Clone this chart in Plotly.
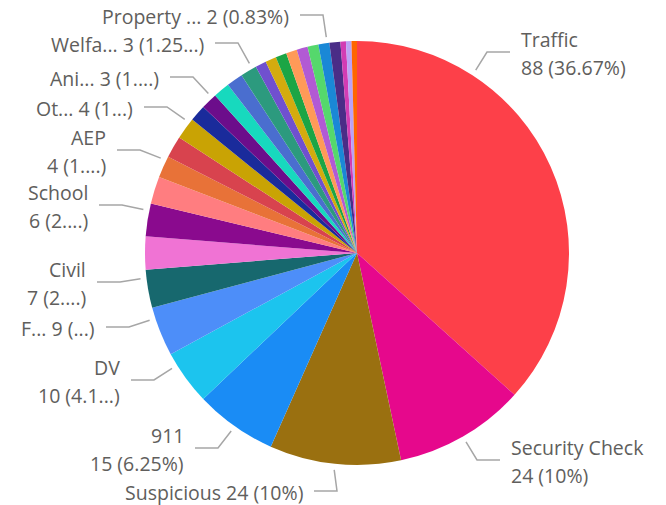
import math
import plotly.graph_objects as go

# slices, in the order they go round the pie (clockwise from 12 o'clock)
categories = ["Traffic", "Security Check", "Suspicious", "911", "DV", "F...", "Civil",
              "Type 8", "School", "Type 10", "AEP", "Type 12", "Ot...", "Type 14",
              "Ani...", "Type 16", "Type 17", "Welfa...", "Type 19", "Type 20",
              "Type 21", "Type 22", "Type 23", "Type 24", "Property ...", "Type 26",
              "Type 27", "Type 28", "Type 29"]
counts = [88, 24, 24, 15, 10, 9, 7,
          6, 6, 5, 4, 4, 4, 3,
          3, 3, 3, 3, 2, 2,
          2, 2, 2, 2, 2, 2,
          1, 1, 1]
colors = ["#FD4049", "#E6088C", "#9A7010", "#1A8CF5", "#1CC4EE", "#4D8EF9", "#17686E",
          "#F073D4", "#8A0A8E", "#FF7D80", "#E87238", "#D8434E", "#C9A304", "#1A2B9B",
          "#6C0D8B", "#17D9BE", "#4A6ECF", "#2C9A7E", "#7050CF", "#D4AB0E",
          "#1BA545", "#FF9A58", "#B25AD4", "#55D86C", "#1A88D6", "#4A2D87",
          "#D23CB4", "#BBA2F6", "#FF6500"]

# data labels shown by the report (truncated the same way)
label_text = {
    "Traffic": ["Traffic", "88 (36.67%)"],
    "Security Check": ["Security Check", "24 (10%)"],
    "Suspicious": ["Suspicious 24 (10%)"],
    "911": ["911", "15 (6.25%)"],
    "DV": ["DV", "10 (4.1...)"],
    "F...": ["F... 9 (...)"],
    "Civil": ["Civil", "7 (2....)"],
    "School": ["School", "6 (2....)"],
    "AEP": ["AEP", "4 (1....)"],
    "Ot...": ["Ot... 4 (1...)"],
    "Ani...": ["Ani... 3 (1....)"],
    "Welfa...": ["Welfa... 3 (1.25...)"],
    "Property ...": ["Property ... 2 (0.83%)"],
}

W, H = 666, 505
CX, CY, R = 357, 253, 212

# where each label sits: side, text edge x, leader y, point inside slice
label_pos = {
    "Traffic": ("right", 519, 52, 0.25),
    "Security Check": ("right", 509, 460, 0.5),
    "Suspicious": ("left", 305, 491, 0.5),
    "911": ("left", 186, 448, 0.5),
    "DV": ("left", 122, 380, 0.77),
    "F...": ("left", 97, 327, 0.78),
    "Civil": ("left", 88, 282, 0.78),
    "School": ("left", 90, 205, 0.78),
    "AEP": ("left", 108, 150, 0.8),
    "Ot...": ("left", 135, 107, 0.8),
    "Ani...": ("left", 161, 77, 0.78),
    "Welfa...": ("left", 206, 43, 0.76),
    "Property ...": ("left", 291, 15, 0.8),
}


def px(x):
    return x / W


def py(y):
    return 1 - y / H


fig = go.Figure(go.Pie(
    labels=categories, values=counts, sort=False, direction="clockwise", rotation=0,
    marker=dict(colors=colors, line=dict(width=0)),
    textinfo="none", hoverinfo="label+value+percent",
    domain=dict(x=[px(CX - R), px(CX + R)], y=[py(CY + R), py(CY - R)]),
))

total = sum(counts)
annotations = []
shapes = []
font = dict(family="Open Sans, Segoe UI, sans-serif", size=19.5, color="#605E5C")
cum = 0
for name, v in zip(categories, counts):
    start, cum = cum, cum + v
    if name not in label_pos:
        continue
    side, tx, ly, frac = label_pos[name]
    ang = math.radians((start + frac * v) / total * 360)
    sx = CX + (R + 6) * math.sin(ang)
    sy = CY - (R + 6) * math.cos(ang)
    if side == "left":
        ex = tx + 9
        bx = ex + 23
        anchor = "right"
    else:
        ex = tx - 9
        bx = ex - 23
        anchor = "left"
    shapes.append(dict(type="path", xref="paper", yref="paper",
                       path=f"M {px(sx)},{py(sy)} L {px(bx)},{py(ly)} L {px(ex)},{py(ly)}",
                       line=dict(color="#A6A6A6", width=1.5)))
    lines = label_text[name]
    if len(lines) == 1:
        offs = [1.5]
    else:
        offs = [-12.5, 15.5]
    for t, o in zip(lines, offs):
        annotations.append(dict(text=t, x=px(tx), y=py(ly + o), xref="paper", yref="paper",
                                xanchor=anchor, yanchor="middle", showarrow=False, font=font))

fig.update_layout(
    width=W, height=H, margin=dict(l=0, r=0, t=0, b=0),
    paper_bgcolor="white", plot_bgcolor="white", showlegend=False,
    shapes=shapes, annotations=annotations,
)
# drop the page's default body margin so the figure fills the window
fig.write_html("out.html", config=dict(displayModeBar=False),
               post_script="document.body.style.margin = '0';")
